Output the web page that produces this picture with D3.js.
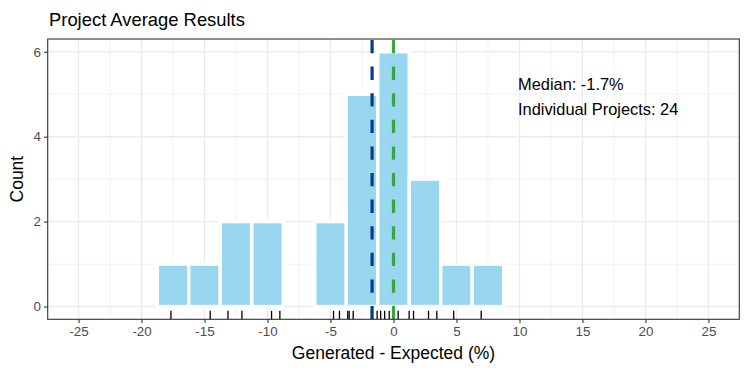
<!DOCTYPE html>
<html>
<head>
<meta charset="utf-8">
<script src="https://cdn.jsdelivr.net/npm/d3@7"></script>
<style>
  body { margin: 0; background: #fff; }
  text { font-family: "Liberation Sans", Arial, sans-serif; }
</style>
</head>
<body>
<div class="container"></div>
<script>
// histogram bins (centre, width 2.5) and counts
const binCenters = [-22.5, -20, -17.5, -15, -12.5, -10, -7.5, -5, -2.5, 0, 2.5, 5, 7.5, 10, 12.5, 15, 17.5, 20, 22.5];
const binCounts  = [0, 0, 1, 1, 2, 2, 0, 2, 5, 6, 3, 1, 1, 0, 0, 0, 0, 0, 0];
const binWidth = 2.5;

// individual project values (rug)
const projectValues = [-17.67, -14.55, -13.14, -12.03, -9.68, -9.02, -4.76, -4.29, -3.63, -3.52, -3.2,
  -1.75, -1.3, -1.02, -0.7, -0.34, 0.0, 0.37, 1.24, 1.59, 2.78, 3.44, 4.78, 6.96];

const medianValue = -1.7;
const expectedValue = 0;
const xTicks = [-25, -20, -15, -10, -5, 0, 5, 10, 15, 20, 25];
const yTicks = [0, 2, 4, 6];
const labels = ['Median: -1.7%', 'Individual Projects: 24'];

const WIDTH = 750;
const HEIGHT = 375;
const LEFT = 47.7, RIGHT = 739.3, TOP = 39, BOTTOM = 319.3;

let translate = (x, y) => `translate(${x}, ${y})`;

let xScale = d3.scaleLinear().domain([-27.45, 27.45]).range([LEFT, RIGHT]);
let yScale = d3.scaleLinear().domain([-0.3, 6.3]).range([BOTTOM, TOP]);

let svg = d3.select('.container').append('svg')
  .attr('width', WIDTH)
  .attr('height', HEIGHT);

// grid
let grid = svg.append('g');
let xMinor = xTicks.slice(0, -1).map(d => d + 2.5);
let yMinor = [1, 3, 5];
grid.selectAll('.xminor').data(xMinor).enter().append('line')
  .attr('x1', d => xScale(d)).attr('x2', d => xScale(d))
  .attr('y1', TOP).attr('y2', BOTTOM)
  .attr('stroke', '#f2f2f2').attr('stroke-width', 1);
grid.selectAll('.yminor').data(yMinor).enter().append('line')
  .attr('x1', LEFT).attr('x2', RIGHT)
  .attr('y1', d => yScale(d)).attr('y2', d => yScale(d))
  .attr('stroke', '#f2f2f2').attr('stroke-width', 1);
grid.selectAll('.xmajor').data(xTicks).enter().append('line')
  .attr('x1', d => xScale(d)).attr('x2', d => xScale(d))
  .attr('y1', TOP).attr('y2', BOTTOM)
  .attr('stroke', '#ebebeb').attr('stroke-width', 1.4);
grid.selectAll('.ymajor').data(yTicks).enter().append('line')
  .attr('x1', LEFT).attr('x2', RIGHT)
  .attr('y1', d => yScale(d)).attr('y2', d => yScale(d))
  .attr('stroke', '#ebebeb').attr('stroke-width', 1.4);

// bars
svg.append('g').selectAll('rect')
  .data(binCenters.map((c, i) => ({c: c, n: binCounts[i]})))
  .enter().append('rect')
  .attr('x', d => xScale(d.c - binWidth / 2))
  .attr('width', d => xScale(d.c + binWidth / 2) - xScale(d.c - binWidth / 2))
  .attr('y', d => yScale(d.n))
  .attr('height', d => yScale(0) - yScale(d.n))
  .attr('fill', '#99d6f0')
  .attr('stroke', '#fff')
  .attr('stroke-width', 3.4);

// rug
svg.append('g').selectAll('line')
  .data(projectValues)
  .enter().append('line')
  .attr('x1', d => xScale(d)).attr('x2', d => xScale(d))
  .attr('y1', BOTTOM).attr('y2', BOTTOM - 8.5)
  .attr('stroke', '#000').attr('stroke-width', 1.3);

// reference lines
let vlines = [{v: medianValue, col: '#0a3a8c'}, {v: expectedValue, col: '#3da53d'}];
svg.append('g').selectAll('line')
  .data(vlines)
  .enter().append('line')
  .attr('x1', d => xScale(d.v)).attr('x2', d => xScale(d.v))
  .attr('y1', BOTTOM).attr('y2', TOP)
  .attr('stroke', d => d.col)
  .attr('stroke-width', 3.2)
  .attr('stroke-dasharray', '13.3,13.3');

// annotations
svg.append('g').selectAll('text')
  .data(labels)
  .enter().append('text')
  .attr('x', 518)
  .attr('y', (d, i) => 90 + i * 25)
  .attr('font-size', 16.4)
  .attr('fill', '#000')
  .text(d => d);

// panel border
svg.append('rect')
  .attr('x', LEFT).attr('y', TOP)
  .attr('width', RIGHT - LEFT).attr('height', BOTTOM - TOP)
  .attr('fill', 'none').attr('stroke', '#333').attr('stroke-width', 1.1);

// axes
let xAxis = d3.axisBottom(xScale).tickValues(xTicks).tickFormat(d => String(d)).tickSize(3.7).tickPadding(3);
let yAxis = d3.axisLeft(yScale).tickValues(yTicks).tickFormat(d => String(d)).tickSize(3.7).tickPadding(3);

let gx = svg.append('g').attr('transform', translate(0, BOTTOM)).call(xAxis);
let gy = svg.append('g').attr('transform', translate(LEFT, 0)).call(yAxis);
[gx, gy].forEach(g => {
  g.select('.domain').remove();
  g.selectAll('line').attr('stroke', '#333').attr('stroke-width', 1.1);
  g.selectAll('text').attr('fill', '#4d4d4d').attr('font-size', 13.4)
    .attr('font-family', '"Liberation Sans", Arial, sans-serif');
});

// titles
svg.append('text')
  .attr('x', 49).attr('y', 26)
  .attr('font-size', 18.4)
  .attr('fill', '#000')
  .text('Project Average Results');

svg.append('text')
  .attr('x', (LEFT + RIGHT) / 2).attr('y', 359)
  .attr('text-anchor', 'middle')
  .attr('font-size', 17.5)
  .attr('fill', '#000')
  .text('Generated - Expected (%)');

svg.append('text')
  .attr('transform', translate(23, (TOP + BOTTOM) / 2) + ' rotate(-90)')
  .attr('text-anchor', 'middle')
  .attr('font-size', 17.5)
  .attr('fill', '#000')
  .text('Count');
</script>
</body>
</html>
